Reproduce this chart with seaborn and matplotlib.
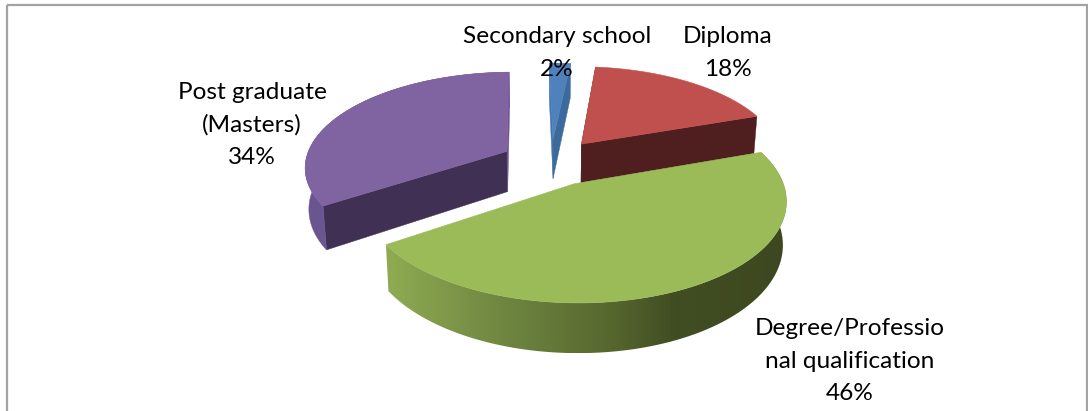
import numpy as np
import matplotlib
matplotlib.use("Agg")
import matplotlib.pyplot as plt
from matplotlib.colors import LinearSegmentedColormap
from matplotlib.patches import Polygon
import seaborn as sns

# Education level shares, in percent
categories = ["Secondary school", "Diploma", "Degree/Professional qualification", "Post graduate (Masters)"]
shares = [2, 18, 46, 34]
label_lines = [
    ["Secondary school"],
    ["Diploma"],
    ["Degree/Professio", "nal qualification"],
    ["Post graduate", "(Masters)"],
]

sns.set_theme(style="white")
plt.rcParams["font.family"] = ["Lato", "DejaVu Sans"]

top_colors = sns.color_palette(["#4F81BD", "#C0504D", "#9BBB59", "#8064A2"])
radial_colors = sns.color_palette(["#3D6A9C", "#4F1F1F", "#3F4A21", "#403154"])
outer_colors = sns.color_palette(["#3D6A9C", "#4F1F1F", "#3F4A21", "#6B5590"])

# Projection of the tilted, exploded disc onto the canvas
CX, CY = 551, 162
SCALE_X, SCALE_Y = 202, 94
PERSPECTIVE = 0.15
EXPLODE = 0.25
DEPTH = 41
BOTTOM_SHRINK = 0.985
START_ANGLE = np.deg2rad(-1.2)


def project(x, y):
    s = 1 / (1 + PERSPECTIVE * y)
    return CX + SCALE_X * x * s, CY - SCALE_Y * y * s, s


def surface(theta, ox, oy, r=1.0):
    px, py, s = project(ox + r * np.sin(theta), oy + r * np.cos(theta))
    return np.column_stack([px, py]), s


def lower(points, s):
    out = points.copy()
    out[:, 0] = CX + (points[:, 0] - CX) * BOTTOM_SHRINK
    out[:, 1] = points[:, 1] + DEPTH * s
    return out


fig = plt.figure(figsize=(10.88, 4.11), dpi=100, facecolor="white")
ax = fig.add_axes([0, 0, 1, 1])
ax.set_xlim(0, 1088)
ax.set_ylim(411, 0)
ax.axis("off")

# Chart frame; its lower edge falls outside the canvas
ax.add_patch(plt.Rectangle((6.5, 5.5), 1080.5, 420, fill=False, edgecolor="#A3A3A3", lw=1.6))

fractions = np.array(shares) / sum(shares)
edges = START_ANGLE + np.concatenate([[0], np.cumsum(fractions)]) * 2 * np.pi

# Olive shading along the curved wall of the largest slice
wall_cmap = LinearSegmentedColormap.from_list(
    "wall", [(0, "#8FAB52"), (0.3, "#6E8540"), (0.55, "#58692F"), (0.72, "#414D22"), (1, "#3D4820")]
)

order = [0, 1, 3, 2]
for i in order:
    a0, a1 = edges[i], edges[i + 1]
    mid = (a0 + a1) / 2
    ox, oy = EXPLODE * np.sin(mid), EXPLODE * np.cos(mid)
    theta = np.linspace(a0, a1, 160)
    rim, s_rim = surface(theta, ox, oy)
    tip, s_tip = surface(np.array([0.0]), ox, oy, r=0.0)
    rim_low = lower(rim, s_rim)
    tip_low = lower(tip, s_tip)

    # Straight cut faces: the one facing the viewer is shown for each slice
    for k in (0, -1):
        face = np.vstack([tip, rim[[k]], rim_low[[k]], tip_low])
        color = radial_colors[i]
        if i == 3 and k == -1:
            color = "#6B5590"
        if i == 0 and k == 0:
            color = "#4477AE"
        if i == 2:
            continue
        ax.add_patch(Polygon(face, closed=True, facecolor=color, edgecolor=color, lw=0.3))

    # Curved outer wall
    wall = np.vstack([rim, rim_low[::-1]])
    if i == 2:
        patch = Polygon(wall, closed=True, facecolor="none", edgecolor="none")
        ax.add_patch(patch)
        left, right = wall[:, 0].min(), wall[:, 0].max()
        img = ax.imshow(
            np.linspace(0, 1, 400)[None, :], cmap=wall_cmap, vmin=0, vmax=1, aspect="auto",
            extent=(left, right, wall[:, 1].max(), wall[:, 1].min()), zorder=2,
        )
        img.set_clip_path(patch)
    elif i == 3:
        ax.add_patch(Polygon(wall, closed=True, facecolor=outer_colors[i], edgecolor=outer_colors[i], lw=0.3))

    # Top surface
    top = np.vstack([tip, rim])
    ax.add_patch(Polygon(top, closed=True, facecolor=top_colors[i], edgecolor=top_colors[i], lw=0.4, zorder=3))

ax.set_xlim(0, 1088)
ax.set_ylim(411, 0)

# Data labels, centred on each anchor (horizontal centre, first line vertical centre)
label_anchors = [(557, 36.5), (728, 36.5), (850, 328.5), (252, 92.5)]
LINE_STEP = 32.7
for lines, share, (lx, ly) in zip(label_lines, shares, label_anchors):
    for n, line in enumerate(lines + [f"{share}%"]):
        ax.text(lx, ly + n * LINE_STEP, line, ha="center", va="center", fontsize=17.6, color="black", zorder=5)

fig.savefig("out.png", dpi=100, facecolor="white")
